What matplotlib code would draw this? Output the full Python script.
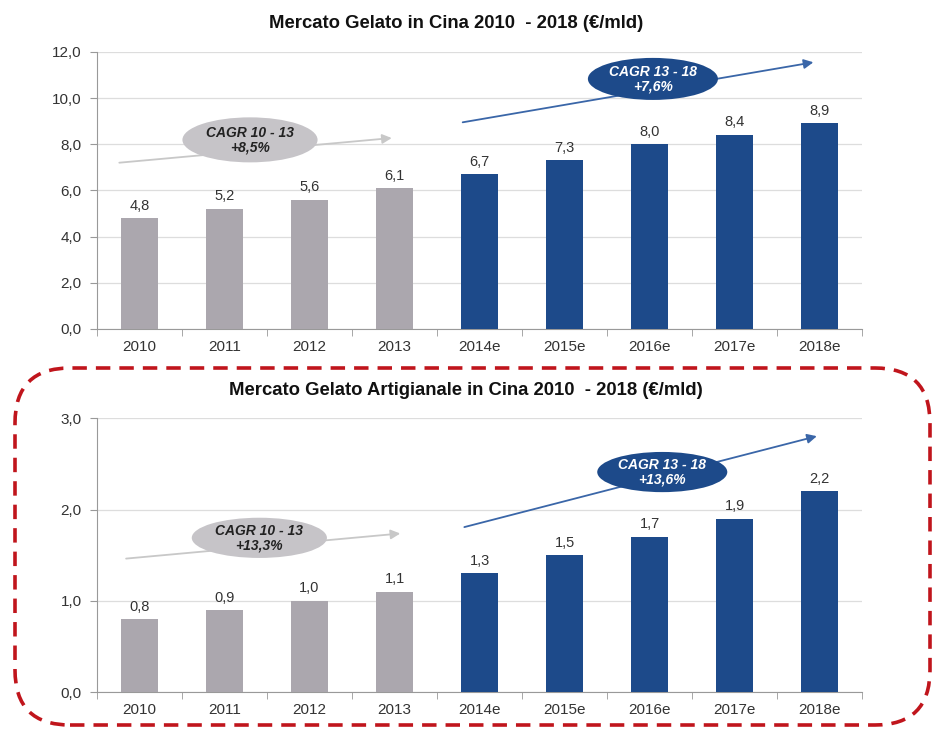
import numpy as np
import matplotlib as mpl
mpl.use('Agg')
import matplotlib.pyplot as plt
from matplotlib.patches import Ellipse, FancyBboxPatch

# data
years = ['2010', '2011', '2012', '2013', '2014e', '2015e', '2016e', '2017e', '2018e']
gelato = [4.8, 5.2, 5.6, 6.1, 6.7, 7.3, 8.0, 8.4, 8.9]
artigianale = [0.8, 0.9, 1.0, 1.1, 1.3, 1.5, 1.7, 1.9, 2.2]
n_hist = 4  # 2010-2013 historic, rest estimates

grey = '#aba7ae'
blue = '#1d4a8a'
txt = '#333333'

plt.rcParams['font.family'] = ['Liberation Sans', 'DejaVu Sans']

fig = plt.figure(figsize=(9.38, 7.31), dpi=100)
ax1 = fig.add_axes([0.1034, 0.55, 0.8156, 0.379])
ax2 = fig.add_axes([0.1034, 0.053, 0.8156, 0.375])


def draw(ax, vals, ymax, step, title, title_x, cagr_a, cagr_b, ann):
    x = np.arange(len(vals))
    cols = [grey] * n_hist + [blue] * (len(vals) - n_hist)
    ax.bar(x, vals, width=0.43, color=cols, zorder=3)
    for xi, v in zip(x, vals):
        ax.text(xi, v + ymax * 0.02, f'{v:.1f}'.replace('.', ','), ha='center',
                va='bottom', fontsize=10.5, color=txt)
    ax.set_xlim(-0.5, len(vals) - 0.5)
    ax.set_ylim(0, ymax)
    yt = np.arange(0, ymax + step / 2, step)
    ax.set_yticks(yt)
    ax.set_yticklabels([f'{t:.1f}'.replace('.', ',') for t in yt])
    ax.set_xticks(x)
    ax.set_xticklabels(years)
    ax.set_xticks(np.arange(-0.5, len(vals)), minor=True)
    ax.tick_params(axis='x', which='major', length=0, labelsize=11, colors=txt, pad=8)
    ax.tick_params(axis='x', which='minor', length=5, color='#999999')
    ax.tick_params(axis='y', length=5, color='#999999', labelsize=11, colors=txt, pad=6)
    ax.grid(axis='y', color='#dddddd', lw=0.9, zorder=0)
    for s in ['top', 'right']:
        ax.spines[s].set_visible(False)
    for s in ['left', 'bottom']:
        ax.spines[s].set_color('#999999')
    ax.set_title(title, fontsize=13.3, fontweight='bold', color='#111111', pad=17, x=title_x)

    (ga0, ga1, ge, gw, gh), (ba0, ba1, be, bw, bh) = ann
    ax.annotate('', xy=ga1, xytext=ga0,
                arrowprops=dict(arrowstyle='-|>', color='#c8c8c8', lw=1.3, mutation_scale=14))
    ax.annotate('', xy=ba1, xytext=ba0,
                arrowprops=dict(arrowstyle='-|>', color='#3a66a8', lw=1.3, mutation_scale=14))
    ax.add_patch(Ellipse(ge, gw, gh, facecolor='#c6c4c8', edgecolor='none', zorder=4))
    ax.text(ge[0], ge[1], cagr_a, ha='center', va='center', fontsize=10,
            fontweight='bold', style='italic', color='#222222', zorder=5, linespacing=1.05)
    ax.add_patch(Ellipse(be, bw, bh, facecolor=blue, edgecolor='none', zorder=4))
    ax.text(be[0], be[1], cagr_b, ha='center', va='center', fontsize=10,
            fontweight='bold', style='italic', color='white', zorder=5, linespacing=1.05)


draw(ax1, gelato, 12, 2.0, 'Mercato Gelato in Cina 2010  - 2018 (€/mld)', 0.47,
     'CAGR 10 - 13\n+8,5%', 'CAGR 13 - 18\n+7,6%',
     [((-0.27, 7.19), (3.0, 8.28), (1.3, 8.19), 1.59, 1.95),
      ((3.77, 8.93), (7.96, 11.57), (6.04, 10.83), 1.53, 1.82)])

draw(ax2, artigianale, 3, 1.0, 'Mercato Gelato Artigianale in Cina 2010  - 2018 (€/mld)', 0.482,
     'CAGR 10 - 13\n+13,3%', 'CAGR 13 - 18\n+13,6%',
     [((-0.19, 1.46), (3.1, 1.74), (1.41, 1.69), 1.59, 0.44),
      ((3.79, 1.80), (8.0, 2.81), (6.15, 2.41), 1.53, 0.44)])

# red dashed rounded frame around the second chart
frame = FancyBboxPatch((0.15, 0.06), 9.15, 3.57,
                       boxstyle='round,pad=0,rounding_size=0.55',
                       transform=fig.dpi_scale_trans, facecolor='none',
                       edgecolor='#c0151c', lw=2.6, linestyle=(0, (4, 2.5)))
fig.patches.append(frame)

fig.savefig('out.png', dpi=100)
